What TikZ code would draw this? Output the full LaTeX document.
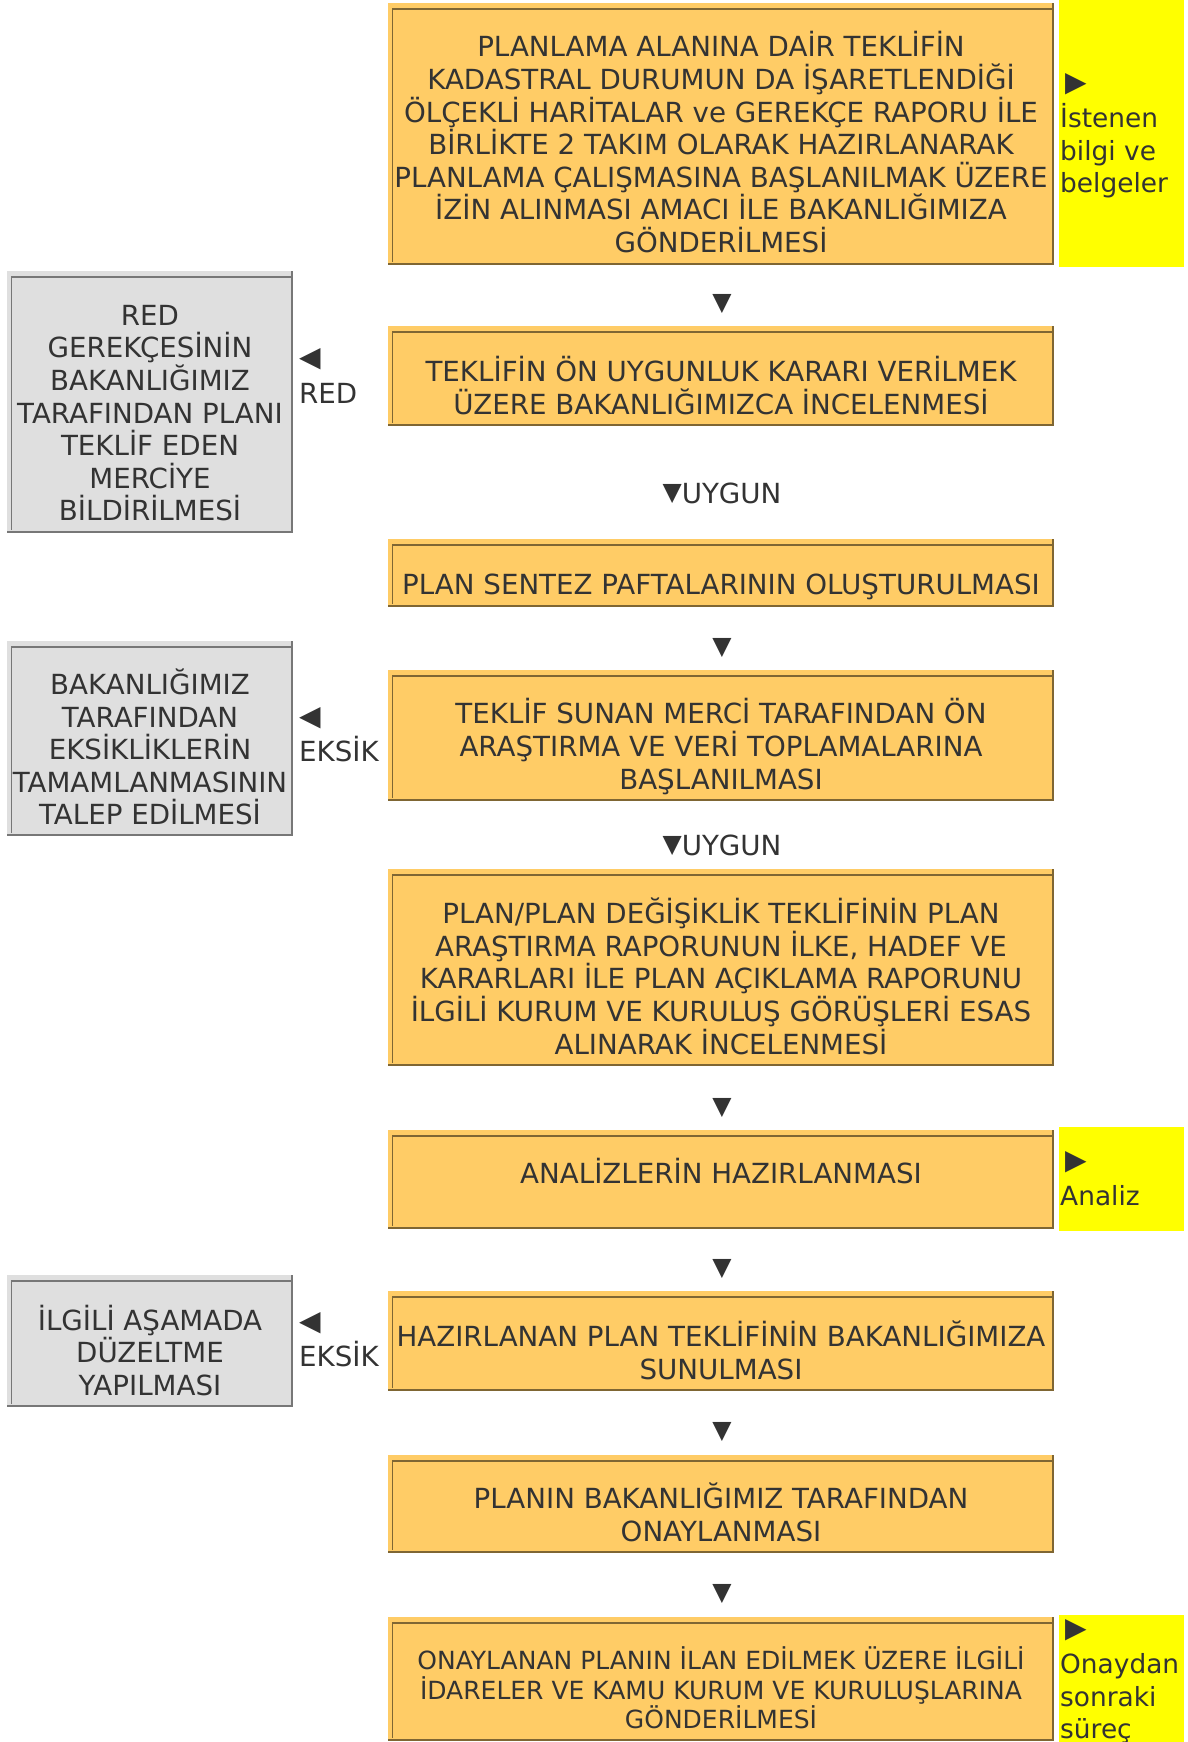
\documentclass[tikz,border=0pt]{standalone}
\usepackage{fontspec}
\setmainfont{DejaVu Sans}
\definecolor{org}{HTML}{FFCC66}
\definecolor{dkb}{HTML}{7F6633}
\definecolor{gfill}{HTML}{DFDFDF}
\definecolor{gline}{HTML}{777777}
\definecolor{tc}{HTML}{333333}
\definecolor{ylw}{HTML}{FFFF00}
\newcommand\Z{\vrule height26pt depth6.6pt width0pt}
\newcommand\Zs{\vrule height23.4pt depth5.8pt width0pt}
\newcommand\Tri[1]{\raisebox{4pt}{\fontsize{28}{30}\selectfont #1}}
\newcommand\Dn{\raisebox{2.5pt}{\fontsize{25}{30}\selectfont ▼}}
\newcommand\rbox[6]{%
  \node[#6box, minimum width={#4-#2}, minimum height={#5-#3}] (#1) at ({(#2+#4)/2},{(#3+#5)/2}) {};
  \draw[#6edge, line width=2pt] ([shift={(0pt,1pt)}]#1.south west) -- ([shift={(-1pt,1pt)}]#1.south east) -- ([shift={(-1pt,0pt)}]#1.north east);
  \draw[#6edge, line width=1.2pt] ([shift={(4.5pt,3pt)}]#1.south west) -- ([shift={(4.5pt,-6pt)}]#1.north west) -- ([shift={(-2pt,-6pt)}]#1.north east);
}
\tikzset{
  obox/.style={rectangle, fill=org, inner sep=0pt, outer sep=0pt},
  oedge/.style={draw=dkb},
  gbox/.style={rectangle, fill=gfill, inner sep=0pt, outer sep=0pt},
  gedge/.style={draw=gline},
  ybox/.style={rectangle, fill=ylw, inner sep=0pt, outer sep=0pt},
  txt/.style={inner sep=0pt, text=tc, align=center, font=\fontsize{27.7}{32.6}\selectfont},
  stxt/.style={inner sep=0pt, text=tc, align=center, font=\fontsize{25}{29.2}\selectfont},
  ltxt/.style={inner sep=0pt, text=tc, align=left, font=\fontsize{27.7}{32.6}\selectfont},
  ytxt/.style={inner sep=0pt, text=tc, align=left, font=\fontsize{26.4}{32.6}\selectfont},
  tri/.style={inner sep=0pt, text=tc, font=\fontsize{25}{30}\selectfont},
}
\begin{document}
\begin{tikzpicture}[x=1pt,y=-1pt]
\useasboundingbox (0,0) rectangle (1188,1742);
\fill[white] (0,0) rectangle (1188,1742);

% orange boxes
\rbox{b1}{388}{3}{1054}{265}{o}
\rbox{b2}{388}{326}{1054}{426}{o}
\rbox{b3}{388}{539}{1054}{607}{o}
\rbox{b4}{388}{670}{1054}{801}{o}
\rbox{b5}{388}{869}{1054}{1066}{o}
\rbox{b6}{388}{1130}{1054}{1229}{o}
\rbox{b7}{388}{1291}{1054}{1391}{o}
\rbox{b8}{388}{1455}{1054}{1553}{o}
\rbox{b9}{388}{1617}{1054}{1741}{o}

% gray boxes
\rbox{g1}{7}{271}{293}{533}{g}
\rbox{g2}{7}{641}{293}{836}{g}
\rbox{g3}{7}{1275}{293}{1407}{g}

% yellow boxes
\node[ybox, minimum width=125, minimum height=267] (y1) at (1121.5,133.5) {};
\node[ybox, minimum width=125, minimum height=104] (y2) at (1121.5,1179) {};
\node[ybox, minimum width=125, minimum height=127] (y3) at (1121.5,1678.5) {};

% texts in orange boxes
\node[txt] (t1) at (721,145) {\Z PLANLAMA ALANINA DAİR TEKLİFİN\\\Z KADASTRAL DURUMUN DA İŞARETLENDİĞİ\\\Z ÖLÇEKLİ HARİTALAR ve GEREKÇE RAPORU İLE\\\Z BİRLİKTE 2 TAKIM OLARAK HAZIRLANARAK\\\Z PLANLAMA ÇALIŞMASINA BAŞLANILMAK ÜZERE\\\Z İZİN ALINMASI AMACI İLE BAKANLIĞIMIZA\\\Z GÖNDERİLMESİ};
\node[txt] (t2) at (721,388.4) {\Z TEKLİFİN ÖN UYGUNLUK KARARI VERİLMEK\\\Z ÜZERE BAKANLIĞIMIZCA İNCELENMESİ};
\node[txt] (t3) at (721,584.5) {\Z PLAN SENTEZ PAFTALARININ OLUŞTURULMASI};
\node[txt] (t4) at (721,746.8) {\Z TEKLİF SUNAN MERCİ TARAFINDAN ÖN\\\Z ARAŞTIRMA VE VERİ TOPLAMALARINA\\\Z BAŞLANILMASI};
\node[txt] (t5) at (721,979.1) {\Z PLAN/PLAN DEĞİŞİKLİK TEKLİFİNİN PLAN\\\Z ARAŞTIRMA RAPORUNUN İLKE, HADEF VE\\\Z KARARLARI İLE PLAN AÇIKLAMA RAPORUNU\\\Z İLGİLİ KURUM VE KURULUŞ GÖRÜŞLERİ ESAS\\\Z ALINARAK İNCELENMESİ};
\node[txt] (t6) at (721,1173.5) {\Z ANALİZLERİN HAZIRLANMASI};
\node[txt] (t7) at (721,1353) {\Z HAZIRLANAN PLAN TEKLİFİNİN BAKANLIĞIMIZA\\\Z SUNULMASI};
\node[txt] (t8) at (721,1515.2) {\Z PLANIN BAKANLIĞIMIZ TARAFINDAN\\\Z ONAYLANMASI};
\node[stxt] (t9) at (721,1690.3) {\Zs ONAYLANAN PLANIN İLAN EDİLMEK ÜZERE İLGİLİ\\\Zs İDARELER VE KAMU KURUM VE KURULUŞLARINA\\\Zs GÖNDERİLMESİ};

% texts in gray boxes
\node[txt] (u1) at (150,413.4) {\Z RED\\\Z GEREKÇESİNİN\\\Z BAKANLIĞIMIZ\\\Z TARAFINDAN PLANI\\\Z TEKLİF EDEN\\\Z MERCİYE\\\Z BİLDİRİLMESİ};
\node[txt] (u2) at (150,750) {\Z BAKANLIĞIMIZ\\\Z TARAFINDAN\\\Z EKSİKLİKLERİN\\\Z TAMAMLANMASININ\\\Z TALEP EDİLMESİ};
\node[txt] (u3) at (150,1353) {\Z İLGİLİ AŞAMADA\\\Z DÜZELTME\\\Z YAPILMASI};

% texts in yellow boxes
\node[ytxt, anchor=west] (v1) at (1060,134.3) {\Z\hspace{5pt}\Tri{▶}\\\Z İstenen\\\Z bilgi ve\\\Z belgeler};
\node[ytxt, anchor=west] (v2) at (1060,1179.7) {\Z\hspace{5pt}\Tri{▶}\\\Z Analiz};
\node[ytxt, anchor=west] (v3) at (1060,1680.3) {\Z\hspace{5pt}\Tri{▶}\\\Z Onaydan\\\Z sonraki\\\Z süreç};

% side labels
\node[ltxt, anchor=west] (r1) at (299,377.1) {\Z\Tri{◀}\\\Z RED};
\node[ltxt, anchor=west] (r2) at (299,735.7) {\Z\Tri{◀}\\\Z EKSİK};
\node[ltxt, anchor=west] (r3) at (299,1340.8) {\Z\Tri{◀}\\\Z EKSİK};

% down arrows
\node[tri] (a1) at (722,304) {▼};
\node[txt, anchor=base] (a2) at (722,503.3) {\Dn UYGUN};
\node[tri] (a3) at (722,648) {▼};
\node[txt, anchor=base] (a4) at (722,855) {\Dn UYGUN};
\node[tri] (a5) at (722,1107.5) {▼};
\node[tri] (a6) at (722,1268.5) {▼};
\node[tri] (a7) at (722,1431.5) {▼};
\node[tri] (a8) at (722,1593.5) {▼};
\end{tikzpicture}
\end{document}
